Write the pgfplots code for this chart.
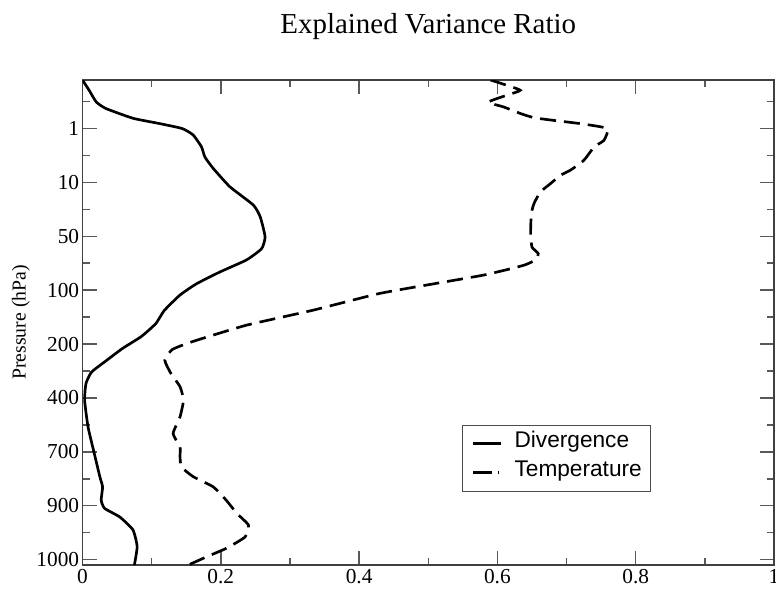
\documentclass[border=0pt]{standalone}
\usepackage{fontspec}
\setmainfont{Liberation Serif}
\newfontfamily\legfont{Liberation Sans}
\usepackage{pgfplots}
\pgfplotsset{compat=1.18}

\pgfplotstableread{
x y
0.000 -0.90
0.010 -0.70
0.020 -0.49
0.034 -0.37
0.073 -0.19
0.112 -0.09
0.144 0.00
0.160 0.12
0.172 0.34
0.177 0.53
0.189 0.74
0.213 1.08
0.247 1.42
0.257 1.64
0.264 2.01
0.259 2.23
0.237 2.44
0.199 2.66
0.165 2.88
0.141 3.09
0.118 3.38
0.106 3.62
0.085 3.86
0.058 4.08
0.032 4.33
0.013 4.52
0.005 4.73
0.003 5.04
0.008 5.54
0.017 6.03
0.025 6.46
0.029 6.65
0.027 6.90
0.032 7.05
0.054 7.21
0.073 7.45
0.079 7.76
0.075 8.10
}\divtable

\pgfplotstableread{
x y
0.590 -0.90
0.607 -0.83
0.633 -0.71
0.614 -0.62
0.587 -0.49
0.609 -0.40
0.633 -0.28
0.653 -0.20
0.682 -0.15
0.720 -0.09
0.759 0.00
0.754 0.22
0.740 0.34
0.725 0.59
0.706 0.77
0.691 0.87
0.677 1.02
0.662 1.18
0.653 1.39
0.649 1.58
0.648 1.95
0.650 2.20
0.659 2.32
0.655 2.44
0.640 2.53
0.620 2.60
0.580 2.72
0.527 2.84
0.430 3.06
0.334 3.37
0.237 3.65
0.160 3.95
0.130 4.10
0.119 4.30
0.128 4.55
0.141 4.79
0.146 5.04
0.141 5.35
0.131 5.66
0.141 5.91
0.141 6.09
0.143 6.28
0.160 6.46
0.189 6.65
0.208 6.90
0.223 7.14
0.240 7.36
0.235 7.58
0.208 7.79
0.179 7.95
0.153 8.10
}\temptable

\begin{document}
\begin{tikzpicture}
\begin{axis}[
  scale only axis,
  width=518.6pt, height=363.75pt,
  xmin=0, xmax=1,
  ymin=-0.9, ymax=8.1,
  y dir=reverse,
  axis line style={black!75, line width=1.1pt},
  xtick={0,0.2,0.4,0.6,0.8,1},
  xticklabels={0,0.2,0.4,0.6,0.8,1},
  minor xtick={0.1,0.3,0.5,0.7,0.9},
  ytick={0,1,2,3,4,5,6,7,8},
  yticklabels={1,10,50,100,200,400,700,900,1000},
  minor ytick={-0.5,0.5,1.5,2.5,3.5,4.5,5.5,6.5,7.5},
  tick align=inside,
  major tick length=10.5pt,
  minor tick length=5.5pt,
  every tick/.style={black!65, line width=1.1pt},
  tick label style={font=\fontsize{16}{19}\selectfont},
  yticklabel style={xshift=1pt},
  title={Explained Variance Ratio},
  title style={at={(axis description cs:0.5,1.079)}, anchor=base, font=\fontsize{21.7}{26}\selectfont},
  ylabel={Pressure (hPa)},
  every axis y label/.style={at={(axis description cs:-0.089,0.5)}, rotate=90, anchor=center, font=\fontsize{14.8}{17}\selectfont},
  legend style={at={(axis description cs:0.549,0.289)}, anchor=north west,
    draw=black!70, line width=0.9pt, font=\legfont\fontsize{17}{20}\selectfont,
    inner xsep=6.75pt, inner ysep=3pt, row sep=0pt,
    nodes={anchor=west, inner xsep=0pt, inner ysep=0pt, text height=13.5pt, text depth=8.25pt}},
  legend cell align=left,
]
\addplot[black, line width=2pt, smooth, tension=0.3,
  legend image code/.code={\draw[black, line width=2.2pt] (0pt,0pt) -- (21pt,0pt); \path (30pt,0pt);}]
  table[x=x, y=y] {\divtable};
\addlegendentry{Divergence}
\addplot[black, line width=2pt, smooth, tension=0.3, dash pattern=on 12pt off 6pt,
  legend image code/.code={\draw[black, line width=2.2pt, dash pattern=on 14pt off 4.5pt on 1pt off 10pt] (0pt,0pt) -- (21pt,0pt); \path (30pt,0pt);}]
  table[x=x, y=y] {\temptable};
\addlegendentry{Temperature}
\coordinate (SW) at (axis description cs:0,0);
\end{axis}
\pgfresetboundingbox
\path ([shift={(-61.9pt,-21pt)}]SW) rectangle ++(582pt,444.75pt);
\end{tikzpicture}
\end{document}
